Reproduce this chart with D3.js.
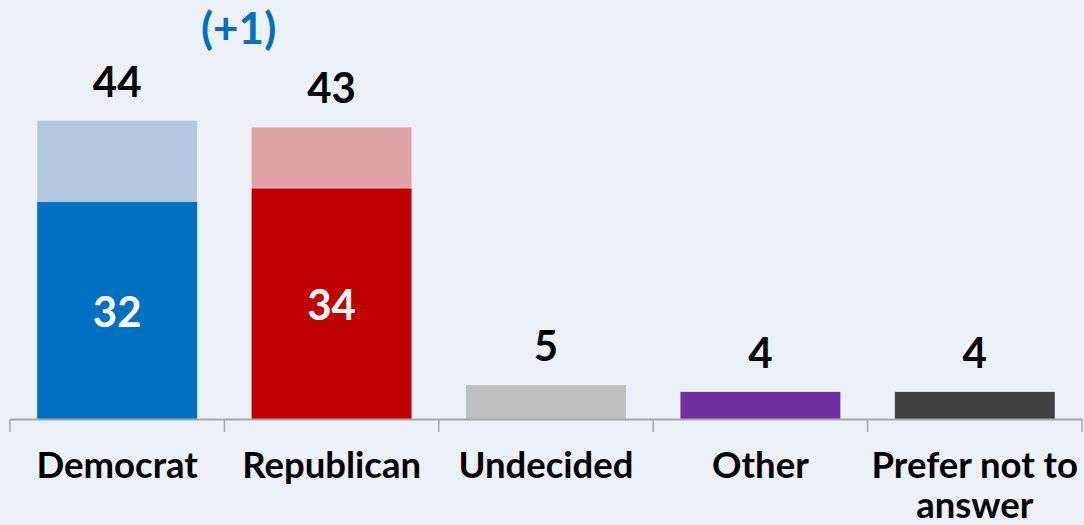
<!DOCTYPE html>
<html>
<head>
<meta charset="utf-8">
<script src="https://cdn.jsdelivr.net/npm/d3@7"></script>
<style>
  html, body { margin: 0; padding: 0; background: #ECF1F8; }
  svg { display: block; }
  text { font-family: Lato, "Open Sans", sans-serif; font-weight: 700; }
</style>
</head>
<body>
<svg id="chart" width="1084" height="525"></svg>
<script>
// Party preference, percent
const categories = ["Democrat", "Republican", "Undecided", "Other", "Prefer not to answer"];
const baseValues = [32, 34, 5, 4, 4];      // firm support
const leanValues = [12, 9, 0, 0, 0];       // leaners added on top
const totalValues = [44, 43, 5, 4, 4];     // label shown above each bar
const baseColors = ["#0070C0", "#C00000", "#BFBFBF", "#7030A0", "#404040"];
const leanColors = ["#B2C8E0", "#E0A3A8", "#BFBFBF", "#7030A0", "#404040"];
const changeNote = "(+1)";

const W = 1084, H = 525;
const svg = d3.select("#chart");
svg.append("rect").attr("width", W).attr("height", H).attr("fill", "#ECF1F8");

const x = d3.scaleBand().domain(categories).range([10, 1082]).paddingInner(0.254).paddingOuter(0.127);
const y = d3.scaleLinear().domain([0, 50]).range([419, 80]);

const rows = categories.map((c, i) => ({
  cat: c, base: baseValues[i], lean: leanValues[i], total: totalValues[i],
  baseColor: baseColors[i], leanColor: leanColors[i]
}));

// lean segment (stacked on base)
svg.selectAll("rect.lean").data(rows.filter(d => d.lean > 0)).join("rect")
  .attr("class", "lean")
  .attr("x", d => x(d.cat)).attr("width", x.bandwidth())
  .attr("y", d => y(d.base + d.lean)).attr("height", d => y(d.base) - y(d.base + d.lean))
  .attr("fill", d => d.leanColor);

// base segment
svg.selectAll("rect.base").data(rows).join("rect")
  .attr("class", "base")
  .attr("x", d => x(d.cat)).attr("width", x.bandwidth())
  .attr("y", d => y(d.base)).attr("height", d => y(0) - y(d.base))
  .attr("fill", d => d.baseColor);

// axis
const axis = d3.axisBottom(x).tickSize(0).tickFormat("");
const gx = svg.append("g").attr("transform", `translate(0,${y(0)})`).call(axis);
gx.select(".domain").attr("stroke", "#A6A6A6").attr("stroke-width", 2);
// tick marks at band boundaries
const bounds = categories.map(c => x(c) - x.step() * x.paddingInner() / 2);
bounds.push(1082);
bounds[0] = 10;
svg.selectAll("line.tick").data(bounds).join("line")
  .attr("x1", d => d).attr("x2", d => d)
  .attr("y1", y(0)).attr("y2", y(0) + 13)
  .attr("stroke", "#A6A6A6").attr("stroke-width", 1.5);

// category labels (wrapped)
const catLines = {
  "Prefer not to answer": ["Prefer not to", "answer"]
};
const labels = svg.selectAll("text.cat").data(categories).join("text")
  .attr("class", "cat")
  .attr("text-anchor", "middle")
  .attr("font-size", 36.5)
  .attr("fill", "#000");
labels.each(function(c) {
  const lines = catLines[c] || [c];
  const t = d3.select(this);
  lines.forEach((ln, i) => {
    t.append("tspan").attr("x", x(c) + x.bandwidth() / 2).attr("y", 478 + i * 40).text(ln);
  });
});

// total labels above bars
svg.selectAll("text.total").data(rows).join("text")
  .attr("class", "total")
  .attr("text-anchor", "middle")
  .attr("font-size", 42)
  .attr("fill", "#000")
  .attr("x", d => x(d.cat) + x.bandwidth() / 2)
  .attr("y", d => y(d.base + d.lean) - 24)
  .text(d => d.total);

// base labels inside stacked bars
svg.selectAll("text.inner").data(rows.filter(d => d.lean > 0)).join("text")
  .attr("class", "inner")
  .attr("text-anchor", "middle")
  .attr("dominant-baseline", "central")
  .attr("font-size", 42)
  .attr("fill", "#fff")
  .attr("x", d => x(d.cat) + x.bandwidth() / 2)
  .attr("y", d => (y(d.base) + y(0)) / 2)
  .text(d => d.base);

// change note
svg.append("text")
  .attr("text-anchor", "middle")
  .attr("font-size", 44)
  .attr("fill", "#0070C0")
  .attr("x", x("Republican") - 13)
  .attr("y", 44)
  .text(changeNote);
</script>
</body>
</html>
